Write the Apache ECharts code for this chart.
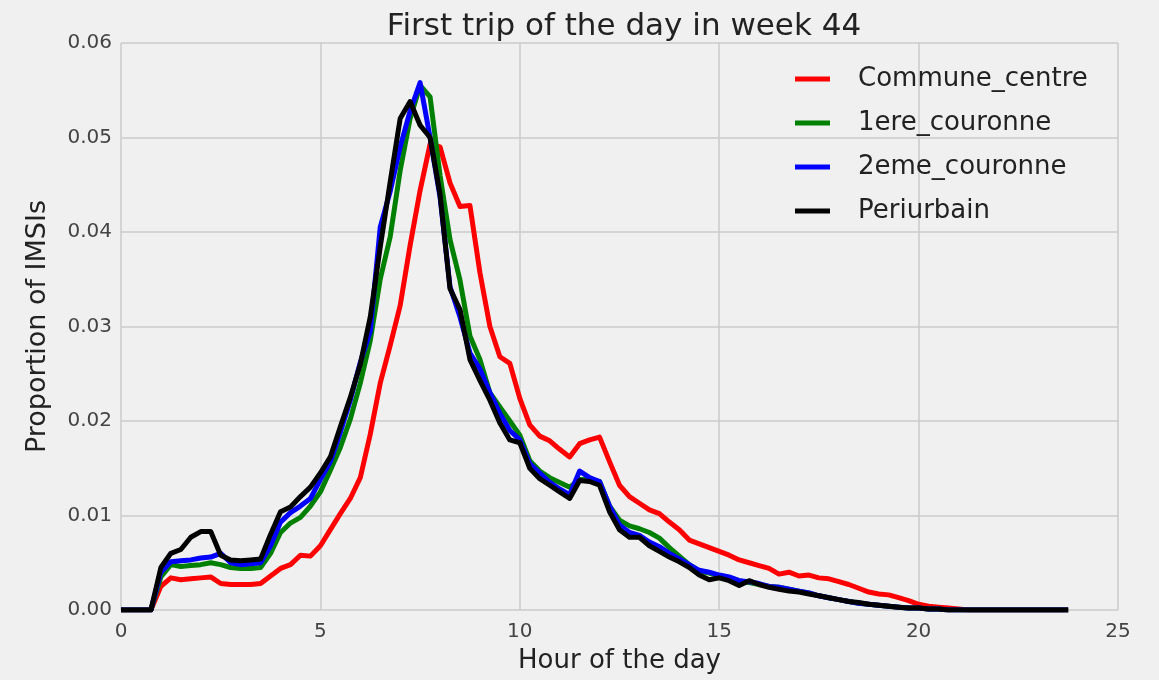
<!DOCTYPE html>
<html><head><meta charset="utf-8">
<script src="https://cdn.jsdelivr.net/npm/echarts@6/dist/echarts.min.js"></script>
<style>html,body{margin:0;padding:0;background:#f0f0f0}#c{width:1159px;height:680px}</style>
</head><body><div id="c"></div>
<script>
const titleText = 'First trip of the day in week 44';
const seriesNames = ['Commune_centre', '1ere_couronne', '2eme_couronne', 'Periurbain'];
const xTicks = [0, 5, 10, 15, 20, 25];
const yTicks = [0, 0.01, 0.02, 0.03, 0.04, 0.05, 0.06];
const stepHours = 0.25;

const communeCentre = [
 0,0,0,0, 0.0025,0.0034,0.0032,0.0033, 0.0034,0.0035,0.0028,0.0027, 0.0027,0.0027,0.0028,0.0036,
 0.0044,0.0048,0.0058,0.0057, 0.0068,0.0085,0.0102,0.0118, 0.014,0.0186,0.024,0.028,
 0.0322,0.0386,0.0444,0.0493, 0.049,0.0452,0.0427,0.0428, 0.0357,0.03,0.0268,0.0261,
 0.0224,0.0196,0.0184,0.0179, 0.017,0.0162,0.0176,0.018, 0.0183,0.0157,0.0132,0.012,
 0.0113,0.0106,0.0102,0.0093, 0.0085,0.0074,0.007,0.0066, 0.0062,0.0058,0.0053,0.005,
 0.0047,0.0044,0.0038,0.004, 0.0036,0.0037,0.0034,0.0033, 0.003,0.0027,0.0023,0.0019,
 0.0017,0.0016,0.0013,0.001, 0.0006,0.0004,0.0003,0.0002, 0.0001,
 0,0,0,0,0,0,0,0,0,0,0
];
const premiereCouronne = [
 0,0,0,0, 0.0035,0.0048,0.0046,0.0047, 0.0048,0.005,0.0048,0.0045, 0.0044,0.0044,0.0045,0.006,
 0.0082,0.0092,0.0098,0.011, 0.0125,0.0148,0.0172,0.0202, 0.024,0.0285,0.035,0.0395,
 0.0465,0.052,0.0555,0.0543, 0.046,0.0392,0.0349,0.029, 0.0265,0.023,0.0215,0.02,
 0.0185,0.0158,0.0147,0.014, 0.0135,0.013,0.0138,0.0138, 0.0136,0.011,0.0095,0.0089,
 0.0086,0.0082,0.0076,0.0066, 0.0057,0.0048,0.0041,0.0039, 0.0036,0.0034,0.0031,0.0029,
 0.0027,0.0025,0.0024,0.0022, 0.002,0.0018,0.0015,0.0013, 0.0011,0.0009,0.0007,0.0006,
 0.0005,0.0004,0.0003,0.0002, 0.0002,0.0001,0.0001,0,
 0,0,0,0,0,0,0,0,0,0,0,0
];
const deuxiemeCouronne = [
 0,0,0,0, 0.004,0.0051,0.0052,0.0053, 0.0055,0.0056,0.006,0.005, 0.0048,0.0049,0.005,0.0068,
 0.0093,0.0103,0.011,0.0118, 0.0138,0.0157,0.0188,0.0222, 0.0262,0.0295,0.0405,0.0443,
 0.049,0.0528,0.0558,0.05, 0.0437,0.0342,0.031,0.0272, 0.0255,0.023,0.0208,0.019,
 0.018,0.0155,0.0145,0.0135, 0.0128,0.0122,0.0147,0.014, 0.0136,0.011,0.009,0.0082,
 0.0079,0.0072,0.0067,0.006, 0.0054,0.0048,0.0042,0.004, 0.0037,0.0035,0.0031,0.003,
 0.0028,0.0025,0.0024,0.0022, 0.002,0.0018,0.0015,0.0013, 0.0011,0.0009,0.0007,0.0006,
 0.0005,0.0004,0.0003,0.0002, 0.0002,0.0001,0.0001,0,
 0,0,0,0,0,0,0,0,0,0,0,0
];
const periurbain = [
 0,0,0,0, 0.0045,0.006,0.0064,0.0077, 0.0083,0.0083,0.0058,0.0053, 0.0052,0.0053,0.0054,0.008,
 0.0104,0.0109,0.012,0.013, 0.0145,0.0162,0.0194,0.0225, 0.026,0.031,0.0384,0.0453,
 0.052,0.0538,0.0513,0.05, 0.044,0.034,0.0318,0.0265, 0.0243,0.0222,0.0198,0.018,
 0.0177,0.015,0.0139,0.0132, 0.0125,0.0118,0.0137,0.0136, 0.0132,0.0104,0.0085,0.0077,
 0.0077,0.0068,0.0062,0.0056, 0.0051,0.0045,0.0037,0.0032, 0.0034,0.0031,0.0026,0.0031,
 0.0027,0.0024,0.0022,0.002, 0.0019,0.0017,0.0015,0.0013, 0.0011,0.0009,0.0008,0.0006,
 0.0005,0.0004,0.0003,0.0002, 0.0002,0.0001,0.0001,0,
 0,0,0,0,0,0,0,0,0,0,0,0
];

const colors = ['#ff0000', '#008000', '#0000ff', '#000000'];
const allValues = [communeCentre, premiereCouronne, deuxiemeCouronne, periurbain];
const FONT = 'DejaVu Sans';

function pairs(vals) { return vals.map((v, i) => [i * stepHours, v]); }

const chart = echarts.init(document.getElementById('c'), null, {renderer: 'canvas'});
chart.setOption({
  backgroundColor: '#f0f0f0',
  animation: false,
  title: {
    text: titleText, left: 619, textAlign: 'center', top: 6,
    textStyle: {fontFamily: FONT, fontSize: 31, fontWeight: 'normal', color: '#222'}
  },
  legend: {
    orient: 'vertical', left: 790, top: 59,
    itemWidth: 35, itemHeight: 5, itemGap: 14, icon: 'rect',
    data: seriesNames,
    textStyle: {fontFamily: FONT, fontSize: 26, color: '#222', lineHeight: 30, padding: [0, 0, 0, 23]}
  },
  grid: {left: 121, right: 41, top: 43, bottom: 70, containLabel: false},
  xAxis: {
    type: 'value', min: xTicks[0], max: xTicks[xTicks.length - 1], interval: 5,
    name: 'Hour of the day', nameLocation: 'middle', nameGap: 38,
    nameTextStyle: {fontFamily: FONT, fontSize: 26, color: '#222'},
    axisLine: {show: false}, axisTick: {show: false},
    axisLabel: {fontFamily: FONT, fontSize: 20, color: '#444', margin: 12},
    splitLine: {show: true, lineStyle: {color: '#cbcbcb', width: 1.5}}
  },
  yAxis: {
    type: 'value', min: yTicks[0], max: yTicks[yTicks.length - 1], interval: 0.01,
    name: 'Proportion of IMSIs', nameLocation: 'middle', nameGap: 70,
    nameTextStyle: {fontFamily: FONT, fontSize: 27, color: '#222'},
    axisLine: {show: false}, axisTick: {show: false},
    axisLabel: {fontFamily: FONT, fontSize: 20, color: '#444', margin: 9,
      formatter: v => v.toFixed(2)},
    splitLine: {show: true, lineStyle: {color: '#cbcbcb', width: 1.5}}
  },
  series: seriesNames.map((n, k) => ({
    name: n, type: 'line', data: pairs(allValues[k]),
    showSymbol: false, symbol: 'none', smooth: false,
    itemStyle: {color: colors[k]},
    lineStyle: {color: colors[k], width: 5, join: 'round'},
    z: 2 + k
  }))
});
</script></body></html>
